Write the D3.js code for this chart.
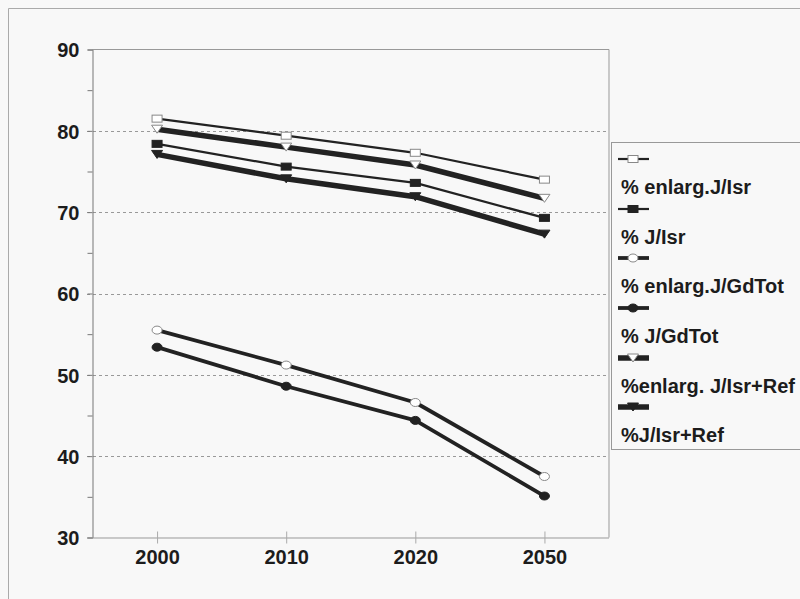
<!DOCTYPE html>
<html><head><meta charset="utf-8">
<script src="https://cdn.jsdelivr.net/npm/d3@7"></script>
<style>
html,body{margin:0;padding:0;background:#f8f8f8;}
svg{display:block;}
text{font-family:"Liberation Sans",Arial,sans-serif;font-weight:bold;fill:#1c1c1c;}
</style></head>
<body>
<svg id="chart" width="800" height="599"></svg>
<script>
const categories = ["2000","2010","2020","2050"];
const yTicks = [30,40,50,60,70,80,90];
const seriesNames = ["% enlarg.J/Isr","% J/Isr","% enlarg.J/GdTot","% J/GdTot","%enlarg. J/Isr+Ref","%J/Isr+Ref"];
const s1 = [81.5, 79.4, 77.3, 74.0];
const s2 = [78.4, 75.6, 73.6, 69.3];
const s3 = [55.5, 51.2, 46.6, 37.5];
const s4 = [53.4, 48.6, 44.4, 35.1];
const s5 = [80.2, 78.0, 75.8, 71.7];
const s6 = [77.1, 74.1, 71.9, 67.3];

const styles = [
  {marker:"square", fill:"#fff", width:2.2},
  {marker:"square", fill:"#222", width:2.2},
  {marker:"circle", fill:"#fff", width:3.8},
  {marker:"circle", fill:"#222", width:3.8},
  {marker:"tri", fill:"#fff", width:5.5},
  {marker:"tri", fill:"#222", width:5.5}
];
const allSeries = [s1,s2,s3,s4,s5,s6];
const FS = "20px";

const svg = d3.select("#chart");
const L=92.5, R=609, T=49.5, B=537.5;
const x = d3.scalePoint().domain(categories).range([L,R]).padding(0.5);
const y = d3.scaleLinear().domain([30,90]).range([B,T]);

svg.append("path").attr("d","M8.5,599 V8.5 H800").attr("fill","none").attr("stroke","#aaa").attr("stroke-width",1);

svg.append("g").selectAll("line").data(yTicks.filter(d=>d>30&&d<90)).join("line")
  .attr("x1",87).attr("x2",R).attr("y1",d=>Math.round(y(d))+0.5).attr("y2",d=>Math.round(y(d))+0.5)
  .attr("stroke","#999").attr("stroke-width",1).attr("stroke-dasharray","3,3");

svg.append("path").attr("d",`M${L},${T} H${R} V${B}`).attr("fill","none").attr("stroke","#999").attr("stroke-width",1);

const yAxis = d3.axisLeft(y).tickValues(d3.range(30,91,5)).tickSize(5).tickFormat(d=> d%10===0? d : "");
const gy = svg.append("g").attr("transform",`translate(${L},0)`).call(yAxis);
gy.select(".domain").attr("stroke","#777");
gy.selectAll(".tick line").attr("stroke","#777");
gy.selectAll(".tick text").attr("x",-13).attr("dy","0.36em").style("font-size",FS).style("font-family","Liberation Sans, Arial, sans-serif").style("font-weight","bold").attr("fill","#1c1c1c");

const xAxis = d3.axisBottom(x).tickSize(6).tickSizeOuter(0);
const gx = svg.append("g").attr("transform",`translate(0,${B})`).call(xAxis);
gx.select(".domain").attr("stroke","#999").attr("d",`M87,0.5H${R}`);
gx.selectAll(".tick line").attr("stroke","#aaa").attr("y1",-6).attr("y2",6);
gx.selectAll(".tick text").attr("y",12).attr("dy","0.71em").style("font-size",FS).style("font-family","Liberation Sans, Arial, sans-serif").style("font-weight","bold").attr("fill","#1c1c1c");

function drawMarker(g, type, cx, cy, fill){
  const sc = fill==="#fff"?"#888":"#222";
  if(type==="square"){
    g.append("rect").attr("x",cx-5).attr("y",cy-3.5).attr("width",10).attr("height",7)
      .attr("fill",fill).attr("stroke",sc).attr("stroke-width",1);
  } else if(type==="circle"){
    g.append("ellipse").attr("cx",cx).attr("cy",cy).attr("rx",5).attr("ry",4)
      .attr("fill",fill).attr("stroke",sc).attr("stroke-width",1);
  } else {
    g.append("path").attr("d",`M${cx-5.5},${cy-4}L${cx+5.5},${cy-4}L${cx},${cy+4}Z`)
      .attr("fill",fill).attr("stroke",sc).attr("stroke-width",1);
  }
}

const line = d3.line().x((d,i)=>x(categories[i])).y(d=>y(d));
[2,3,0,1,4,5].forEach(k=>{
  const data=allSeries[k], st=styles[k];
  const g=svg.append("g");
  g.append("path").attr("d",line(data)).attr("fill","none").attr("stroke","#222").attr("stroke-width",st.width).attr("stroke-linejoin","round");
  data.forEach((v,i)=>drawMarker(g, st.marker, x(categories[i]), y(v), st.fill));
});

const lg = svg.append("g");
lg.append("rect").attr("x",611.5).attr("y",142.5).attr("width",200).attr("height",307).attr("fill","#f8f8f8").attr("stroke","#999");
const symY=[159,209,258,308,358,407];
seriesNames.forEach((name,k)=>{
  const st=styles[k];
  lg.append("line").attr("x1",618).attr("x2",649).attr("y1",symY[k]).attr("y2",symY[k]).attr("stroke","#222").attr("stroke-width",st.width);
  drawMarker(lg, st.marker, 633, symY[k], st.fill);
  lg.append("text").attr("x",621).attr("y",symY[k]+28).attr("dy","0.36em").style("font-size",FS).text(name);
});
</script>
</body></html>
